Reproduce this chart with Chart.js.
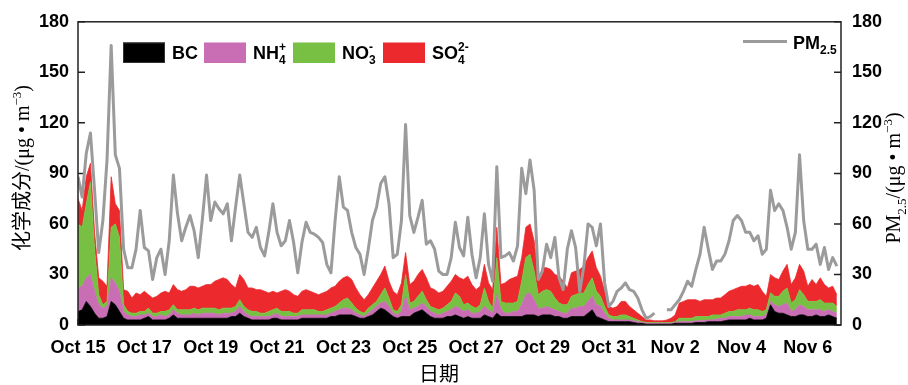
<!DOCTYPE html>
<html>
<head>
<meta charset="utf-8">
<script src="https://cdn.jsdelivr.net/npm/chart.js@4"></script>
<style>
  html, body { margin: 0; padding: 0; background: #ffffff; }
  #wrap { width: 908px; height: 385px; }
</style>
</head>
<body>
<div id="wrap"><canvas id="chart" width="908" height="385"></canvas></div>
<script>
// Sampling step of the record, in hours (first sample: Oct 15 00:00)
const STEP_HOURS = 3;
// Axis tick labels, one every 48 h
const dayLabels = ['Oct 15', 'Oct 17', 'Oct 19', 'Oct 21', 'Oct 23', 'Oct 25',
                   'Oct 27', 'Oct 29', 'Oct 31', 'Nov 2', 'Nov 4', 'Nov 6'];

// PM2.5 mass concentration (μg/m3); null = no measurement
const pm25 = [
  88, 76, 102, 114, 80, 43, 62, 98, 166, 101,
  93, 45, 34, 34, 45, 68, 46, 44, 27, 40,
  45, 30, 50, 89, 66, 50, 58, 65, 56, 40,
  63, 89, 62, 73, 69, 66, 72, 50, 70, 89,
  72, 55, 52, 58, 46, 41, 55, 72, 55, 47,
  50, 62, 49, 31, 49, 61, 55, 54, 52, 49,
  36, 31, 62, 88, 70, 68, 55, 46, 42, 30,
  45, 62, 70, 84, 88, 72, 40, 42, 62, 119,
  65, 55, 64, 74, 48, 50, 45, 32, 30, 30,
  40, 61, 46, 41, 64, 42, 28, 40, 66, 36,
  26, 94, 40, 41, 43, 38, 47, 93, 78, 98,
  80, 27, 32, 48, 40, 52, 28, 21, 45, 56,
  46, 20, 35, 60, 58, 47, 60, 25, 11, 14,
  20, 22, 25, 21, 20, 16, 9, 4, 5, 7,
  null, null, 9, 9, 12, 15, 20, 26, 23, 33,
  42, 58, 45, 33, 38, 38, 42, 50, 62, 65,
  62, 55, 55, 50, 53, 42, 45, 80, 68, 72,
  68, 58, 45, 55, 101, 62, 45, 45, 48, 36,
  46, 33, 40, 35
];

// Black carbon
const bc = [
  8, 9, 14, 11, 7, 4, 4, 5, 14, 12,
  8, 4, 3, 3, 3, 3, 4, 5, 3, 3,
  3, 3, 4, 6, 4, 4, 4, 4, 4, 4,
  4, 4, 4, 4, 4, 4, 4, 5, 5, 7,
  5, 4, 3, 3, 3, 3, 3, 4, 4, 3,
  3, 3, 3, 3, 4, 4, 4, 4, 4, 4,
  4, 5, 5, 6, 6, 6, 6, 5, 4, 4,
  5, 6, 8, 10, 9, 7, 5, 4, 5, 5,
  5, 7, 8, 9, 7, 5, 4, 4, 4, 5,
  5, 6, 5, 4, 5, 4, 4, 4, 6, 5,
  4, 7, 5, 5, 5, 5, 5, 5, 6, 6,
  6, 5, 6, 6, 6, 5, 5, 4, 4, 5,
  5, 5, 5, 7, 9, 5, 4, 3, 2, 2,
  2, 2, 2, 2, 1.5, 1, 1, 0.5, 0.5, 0.5,
  0.5, 0.5, 0.5, 0.5, 1, 1, 1, 1, 1, 1.5,
  1.5, 1.5, 2, 2, 2, 2, 2.5, 3, 3, 3,
  3, 3, 4, 3, 3, 3, 4, 12, 8, 7,
  7, 6, 5, 5, 6, 6, 5, 5, 6, 5,
  5, 6, 5, 4
];

// Ammonium
const nh4 = [
  14, 14, 14, 19, 13, 8, 6, 6, 14, 13,
  12, 4, 3, 2, 2, 3, 2, 2, 2, 2,
  3, 2, 2, 3, 3, 2, 2, 2, 3, 2,
  3, 3, 3, 3, 2, 3, 3, 2, 3, 4,
  3, 2, 2, 2, 2, 2, 2, 2, 3, 2,
  2, 2, 2, 2, 2, 2, 2, 2, 2, 2,
  2, 2, 3, 3, 4, 4, 3, 2, 2, 1,
  2, 3, 3, 3, 5, 4, 2, 2, 3, 12,
  4, 3, 3, 4, 4, 3, 3, 2, 3, 3,
  4, 5, 5, 4, 4, 3, 3, 4, 5, 4,
  3, 11, 4, 2, 2, 3, 3, 7, 12, 13,
  9, 5, 4, 5, 4, 4, 3, 3, 3, 5,
  5, 6, 6, 7, 8, 7, 7, 4, 2, 1,
  1, 1, 1, 1, 1, 1, 0.5, 0.5, 0.5, 0.5,
  0.5, 0.5, 0.5, 0.5, 0.5, 1, 1, 1, 1, 1,
  1, 1, 1, 1, 1.5, 2, 1.5, 2, 2, 2,
  2, 3, 2, 2, 2, 2, 2, 2, 4, 4,
  5, 7, 3, 4, 6, 5, 4, 4, 3, 4,
  3, 3, 3, 3
];

// Nitrate
const no3 = [
  38, 35, 44, 55, 25, 6, 2, 3, 30, 35,
  32, 4, 2, 2, 2, 2, 2, 3, 2, 2,
  2, 3, 3, 3, 2, 3, 3, 3, 3, 3,
  3, 3, 3, 3, 3, 3, 3, 3, 3, 4,
  3, 3, 3, 3, 2, 2, 3, 3, 3, 3,
  3, 3, 2, 2, 3, 3, 3, 3, 2, 2,
  3, 3, 3, 4, 5, 6, 4, 3, 2, 2,
  3, 3, 3, 5, 8, 5, 2, 2, 4, 13,
  4, 4, 6, 7, 4, 3, 3, 3, 3, 4,
  5, 8, 7, 4, 4, 4, 3, 4, 11, 5,
  3, 22, 5, 6, 6, 5, 6, 14, 22, 23,
  17, 8, 10, 10, 10, 7, 5, 5, 5, 7,
  8, 8, 8, 10, 11, 8, 6, 4, 2, 2,
  2, 3, 3, 2, 1.5, 1, 0.5, 0.5, 0.5, 0.5,
  0.5, 0.5, 0.5, 0.5, 0.5, 2, 2, 2, 2, 2.5,
  2.5, 2.5, 2, 3, 2.5, 2, 3, 3, 3, 4,
  4, 3, 4, 4, 4, 3, 3, 5, 5, 6,
  8, 9, 5, 6, 9, 7, 5, 5, 5, 6,
  5, 4, 5, 4
];

// Sulfate
const so4 = [
  15, 10, 16, 11, 10, 10, 14, 9, 30, 12,
  16, 9, 12, 9, 12, 10, 12, 8, 9, 10,
  11, 12, 10, 12, 12, 11, 12, 14, 13, 13,
  13, 14, 14, 16, 18, 18, 17, 14, 11, 15,
  16, 13, 14, 13, 14, 13, 11, 11, 9, 12,
  13, 12, 11, 10, 11, 12, 11, 10, 10, 11,
  11, 12, 12, 13, 13, 13, 14, 12, 10, 8,
  8, 10, 12, 12, 13, 10, 11, 10, 13, 13,
  11, 12, 13, 13, 13, 11, 11, 10, 10, 11,
  12, 11, 11, 15, 16, 13, 11, 11, 14, 11,
  11, 18, 10, 12, 14, 15, 15, 14, 18, 18,
  18, 9, 14, 13, 13, 14, 16, 14, 10, 14,
  14, 14, 16, 16, 16, 14, 12, 9, 5, 5,
  6, 8, 8, 6, 5, 4, 3, 1.5, 1.5, 1,
  1, 1, 1.5, 2.5, 4, 9, 10, 11, 11, 10,
  9, 10, 10, 9, 10, 10, 11, 12, 13, 13,
  14, 14, 14, 14, 15, 12, 8, 11, 11, 10,
  12, 14, 11, 13, 15, 14, 9, 13, 10, 13,
  11, 9, 10, 7
];

const COLORS = {
  bc: '#000000',
  nh4: '#c96db4',
  no3: '#78c043',
  so4: '#ec2a2e',
  pm: '#9b9b9b',
  axis: '#222222'
};

const SANS = '"Liberation Sans", Arial, sans-serif';
const SERIF = '"Liberation Serif", "Times New Roman", "Noto Sans CJK SC", serif';
const CJK = '"Noto Sans CJK SC", sans-serif';

const toPoints = arr => arr.map((v, i) => ({ x: i * STEP_HOURS, y: v }));

// Draws a run of text pieces; a piece may carry a superscript and/or subscript
function drawRich(ctx, parts, x, y, size, family, weight) {
  const base = `${weight} ${size}px ${family}`;
  const small = `${weight} ${Math.round(size * 0.66)}px ${family}`;
  let cx = x;
  for (const p of parts) {
    if (p.t) {
      ctx.font = base;
      ctx.fillText(p.t, cx, y);
      cx += ctx.measureText(p.t).width;
    }
    if (p.sup || p.sub) {
      ctx.font = small;
      let w = 0;
      if (p.sup) { ctx.fillText(p.sup, cx, y - size * 0.42); w = Math.max(w, ctx.measureText(p.sup).width); }
      if (p.sub) { ctx.fillText(p.sub, cx, y + size * 0.28); w = Math.max(w, ctx.measureText(p.sub).width); }
      cx += w;
    }
  }
  return cx - x;
}

function richWidth(ctx, parts, size, family, weight) {
  const base = `${weight} ${size}px ${family}`;
  const small = `${weight} ${Math.round(size * 0.66)}px ${family}`;
  let w = 0;
  for (const p of parts) {
    if (p.t) { ctx.font = base; w += ctx.measureText(p.t).width; }
    let s = 0;
    ctx.font = small;
    if (p.sup) s = Math.max(s, ctx.measureText(p.sup).width);
    if (p.sub) s = Math.max(s, ctx.measureText(p.sub).width);
    w += s;
  }
  return w;
}

const legendItems = [
  { color: COLORS.bc, parts: [{ t: 'BC' }], x: 123 },
  { color: COLORS.nh4, parts: [{ t: 'NH', sup: '+', sub: '4' }], x: 204 },
  { color: COLORS.no3, parts: [{ t: 'NO', sup: '-', sub: '3' }], x: 293 },
  { color: COLORS.so4, parts: [{ t: 'SO', sup: '2-', sub: '4' }], x: 383 }
];

const decorations = {
  id: 'decorations',
  beforeDatasetsDraw(chart) {
    const { ctx, chartArea: a, scales } = chart;
    ctx.save();
    ctx.strokeStyle = COLORS.axis;
    ctx.lineWidth = 1.5;
    ctx.beginPath();
    for (let v = 0; v <= 552; v += 48) {
      const px = scales.x.getPixelForValue(v);
      ctx.moveTo(px, a.bottom); ctx.lineTo(px, a.bottom - 6);
    }
    for (let v = 0; v <= 180; v += 30) {
      const py = scales.y.getPixelForValue(v);
      ctx.moveTo(a.left, py); ctx.lineTo(a.left + 7, py);
      ctx.moveTo(a.right, py); ctx.lineTo(a.right - 7, py);
    }
    ctx.stroke();
    ctx.restore();
  },
  afterDatasetsDraw(chart) {
    const { ctx, chartArea: a } = chart;
    ctx.save();
    ctx.strokeStyle = COLORS.axis;
    ctx.lineWidth = 1.5;
    ctx.strokeRect(a.left, a.top, a.right - a.left, a.bottom - a.top);
    ctx.restore();
  },
  afterDraw(chart) {
    const { ctx } = chart;
    ctx.save();
    ctx.fillStyle = '#000';
    ctx.textBaseline = 'alphabetic';
    ctx.textAlign = 'left';

    // component legend
    for (const it of legendItems) {
      ctx.fillStyle = it.color;
      ctx.fillRect(it.x, 42.5, 42, 20.5);
      if (it.color === COLORS.bc) {
        ctx.strokeStyle = '#333';
        ctx.lineWidth = 1;
        ctx.strokeRect(it.x + 0.5, 43, 41, 19.5);
      }
      ctx.fillStyle = '#000';
      drawRich(ctx, it.parts, it.x + 49, 58.5, 18, SANS, 'bold');
    }
    // PM2.5 legend
    ctx.strokeStyle = COLORS.pm;
    ctx.lineWidth = 3;
    ctx.beginPath();
    ctx.moveTo(743, 41.5); ctx.lineTo(787, 41.5);
    ctx.stroke();
    drawRich(ctx, [{ t: 'PM', sub: '2.5' }], 793, 49, 18, SANS, 'bold');

    // left axis title
    const leftParts = [{ t: '化学成分/(μg • m', sup: '−3' }, { t: ')' }];
    ctx.save();
    ctx.translate(22, 168);
    ctx.rotate(-Math.PI / 2);
    const lw = richWidth(ctx, leftParts, 20, SERIF, 'normal');
    drawRich(ctx, leftParts, -lw / 2, 7, 20, SERIF, 'normal');
    ctx.restore();

    // right axis title
    const rightParts = [{ t: 'PM', sub: '2.5' }, { t: '/(μg • m', sup: '−3' }, { t: ')' }];
    ctx.save();
    ctx.translate(893, 178);
    ctx.rotate(-Math.PI / 2);
    const rw = richWidth(ctx, rightParts, 20, SERIF, 'normal');
    drawRich(ctx, rightParts, -rw / 2, 7, 20, SERIF, 'normal');
    ctx.restore();

    // x axis title
    ctx.font = `20px ${CJK}`;
    ctx.textAlign = 'center';
    ctx.fillText('日期', 439, 381);
    ctx.restore();
  }
};

const tickFont = { family: SANS, size: 18, weight: 'bold' };

new Chart(document.getElementById('chart'), {
  type: 'line',
  data: {
    datasets: [
      { label: 'PM2.5', data: toPoints(pm25), yAxisID: 'y2', borderColor: COLORS.pm,
        borderWidth: 3, fill: false, spanGaps: false },
      { label: 'BC', data: toPoints(bc), yAxisID: 'y', borderColor: COLORS.bc,
        backgroundColor: COLORS.bc, borderWidth: 0.8, fill: 'origin' },
      { label: 'NH4+', data: toPoints(nh4), yAxisID: 'y', borderColor: COLORS.nh4,
        backgroundColor: COLORS.nh4, borderWidth: 0.8, fill: '-1' },
      { label: 'NO3-', data: toPoints(no3), yAxisID: 'y', borderColor: COLORS.no3,
        backgroundColor: COLORS.no3, borderWidth: 0.8, fill: '-1' },
      { label: 'SO4 2-', data: toPoints(so4), yAxisID: 'y', borderColor: COLORS.so4,
        backgroundColor: COLORS.so4, borderWidth: 0.8, fill: '-1' }
    ]
  },
  options: {
    responsive: false,
    animation: false,
    events: [],
    layout: { padding: { top: 20, left: 0, right: 0, bottom: 0 } },
    elements: { point: { radius: 0 }, line: { tension: 0, borderJoinStyle: 'round' } },
    plugins: { legend: { display: false }, tooltip: { enabled: false } },
    scales: {
      x: {
        type: 'linear', min: 0, max: 552,
        grid: { display: false, drawTicks: false },
        border: { display: false },
        ticks: {
          stepSize: 48, autoSkip: false, maxRotation: 0, padding: 12, includeBounds: false,
          color: '#000', font: tickFont,
          callback: v => dayLabels[v / 48] ?? ''
        },
        afterFit: s => { s.height = 60; }
      },
      y: {
        stacked: true, min: 0, max: 180, position: 'left',
        grid: { display: false, drawTicks: false },
        border: { display: false },
        ticks: { stepSize: 30, padding: 9, color: '#000', font: tickFont },
        afterFit: s => { s.width = 78; }
      },
      y2: {
        min: 0, max: 180, position: 'right',
        grid: { display: false, drawTicks: false },
        border: { display: false },
        ticks: { stepSize: 30, padding: 11, color: '#000', font: tickFont },
        afterFit: s => { s.width = 67; }
      }
    }
  },
  plugins: [decorations]
});
</script>
</body>
</html>
